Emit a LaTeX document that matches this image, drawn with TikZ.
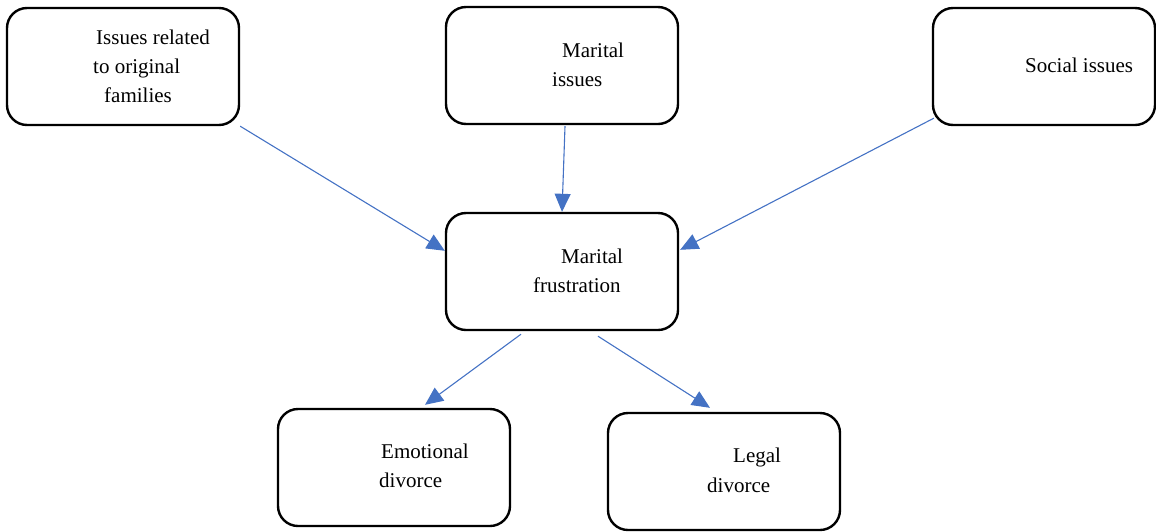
\documentclass[tikz,border=0pt]{standalone}
\usepackage{fontspec}
\setmainfont{Liberation Serif}
\usetikzlibrary{arrows.meta,calc}
\definecolor{arrowblue}{HTML}{4472C4}
\tikzset{
  box/.style={draw=black, line width=2.4pt, rounded corners=20pt, minimum width=232pt, minimum height=117pt, inner sep=0pt, fill=white},
  txt/.style={anchor=base west, inner sep=0pt, font=\fontsize{21}{29}\selectfont},
  arr/.style={draw=arrowblue, line width=1.1pt, -{Triangle[length=18pt,width=16pt]}, shorten >=0pt}
}
\begin{document}
\begin{tikzpicture}[x=1pt,y=-1pt]
\useasboundingbox (0,0) rectangle (1156,531);
\node[box] (b1) at (123,66.5) {};
\node[box] (b2) at (562,65.5) {};
\node[box, minimum width=222pt] (b3) at (1044,66.5) {};
\node[box] (b4) at (562,271.5) {};
\node[box] (b5) at (394,467.5) {};
\node[box] (b6) at (724,471.5) {};
% texts
\node[txt] (t1a) at (96,44) {Issues related};
\node[txt] (t1b) at (93,73) {to original};
\node[txt] (t1c) at (104,102) {families};
\node[txt] (t2a) at (562,57) {Marital};
\node[txt] (t2b) at (552,86) {issues};
\node[txt] (t3a) at (1025,72) {Social issues};
\node[txt] (t4a) at (561,263) {Marital};
\node[txt] (t4b) at (533,292) {frustration};
\node[txt] (t5a) at (381,458) {Emotional};
\node[txt] (t5b) at (379,487) {divorce};
\node[txt] (t6a) at (733,462) {Legal};
\node[txt] (t6b) at (707,492) {divorce};
% arrows
\draw[arr] (b1.south east) -- ($(b4.north west)+(0,39)$);
\draw[arr] ($(b2.south)+(3,1)$) -- (b4.north);
\draw[arr] ($(b3.south west)+(2,-8)$) -- ($(b4.north east)+(1,38)$);
\draw[arr] ($(b4.south)+(-41,3)$) -- ($(b5.north)+(31,-3)$);
\draw[arr] ($(b4.south)+(36,5)$) -- ($(b6.north)+(-14,-4)$);
\end{tikzpicture}
\end{document}
